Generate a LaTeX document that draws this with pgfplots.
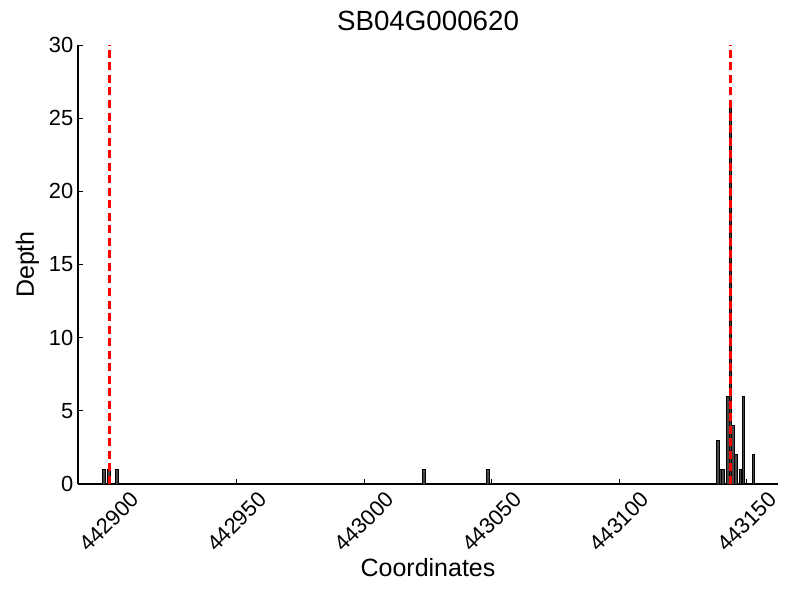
\documentclass[border=0pt]{standalone}
\usepackage{fontspec}
\setmainfont{Liberation Sans}
\usepackage{pgfplots}
\pgfplotsset{compat=1.18}
\begin{document}
\begin{tikzpicture}
\useasboundingbox (-58.5pt,-87pt) rectangle (541.5pt,363pt);
\begin{axis}[
  at={(0,0)}, anchor=south west,
  scale only axis, width=525pt, height=329.25pt,
  xmin=442887.8, xmax=443162.2, ymin=0, ymax=30,
  scaled x ticks=false, scaled y ticks=false,
  axis x line*=bottom, axis y line*=left,
  axis line style={line width=0.8pt, -},
  tick align=inside, major tick length=3.7pt,
  tick style={line width=0.7pt, black},
  xtick={442900,442950,443000,443050,443100,443150},
  xticklabels={442900,442950,443000,443050,443100,443150},
  ytick={0,5,10,15,20,25,30},
  yticklabels={0,5,10,15,20,25,30},
  tick label style={font=\fontsize{16.4}{19}\selectfont},
  x tick label style={anchor=center, rotate=45, xshift=-20pt, yshift=-20pt},
  y tick label style={anchor=east},
  title={SB04G000620},
  title style={font=\fontsize{20.8}{24}\selectfont, at={(axis description cs:0.5,1.0364)}, anchor=center},
  xlabel={Coordinates},
  xlabel style={font=\fontsize{18.75}{22}\selectfont, at={(axis description cs:0.5,-0.1913)}, anchor=center},
  ylabel={Depth},
  ylabel style={font=\fontsize{18.75}{22}\selectfont, at={(axis description cs:-0.0724,0.5)}, anchor=center},
  clip=false,
]
\addplot[ybar, bar width=1, fill=black!72, draw=black, line width=0.6pt] coordinates {
  (442898,1) (442900,1) (442903,1)
  (443023.5,1) (443048.5,1)
  (443138.6,3) (443139.6,1) (443140.6,1) (443142.6,6) (443143.6,26)
  (443144.6,4) (443145.6,2) (443147.5,1) (443148.6,6) (443152.6,2)
};
\addplot[red, line width=2.25pt, dash pattern=on 6pt off 3.4pt] coordinates {(442900,0) (442900,30)};
\addplot[red, line width=2.25pt, dash pattern=on 6pt off 3.4pt] coordinates {(443143.7,0) (443143.7,30)};
\end{axis}
\end{tikzpicture}
\end{document}
